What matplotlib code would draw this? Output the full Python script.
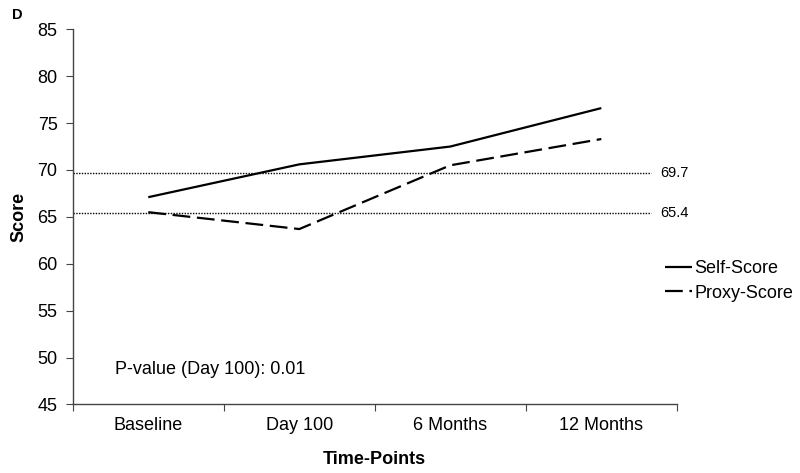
import matplotlib
matplotlib.use("Agg")
import matplotlib.pyplot as plt

categories = ["Baseline", "Day 100", "6 Months", "12 Months"]
self_score = [67.1, 70.6, 72.5, 76.6]
proxy_score = [65.5, 63.7, 70.5, 73.3]
ref_values = [69.7, 65.4]
ref_labels = ["69.7", "65.4"]
yticks = [45, 50, 55, 60, 65, 70, 75, 80, 85]

plt.rcParams['font.family'] = ['Liberation Sans', 'DejaVu Sans']

fig = plt.figure(figsize=(8, 4.73), dpi=100)
ax = fig.add_axes([0.091, 0.145, 0.755, 0.793])

x = list(range(len(categories)))
ax.plot(x, self_score, color='black', lw=1.6, label='Self-Score', solid_capstyle='butt')
ax.plot(x, proxy_score, color='black', lw=1.6, dashes=(8, 3), label='Proxy-Score', dash_capstyle='butt')

for v, lab in zip(ref_values, ref_labels):
    ax.plot([-0.5, 3.33], [v, v], color='black', lw=1.0, linestyle=(0, (1, 1)))
    ax.text(3.39, v, lab, fontsize=10.5, va='center', ha='left')

ax.set_xlim(-0.5, 3.5)
ax.set_ylim(45, 85)
ax.set_yticks(yticks)
ax.set_xticks([-0.5, 0.5, 1.5, 2.5, 3.5])
ax.set_xticklabels([])
ax.set_xticks(x, minor=True)
ax.set_xticklabels(categories, minor=True, fontsize=13)
ax.tick_params(axis='x', which='minor', length=0, pad=9)
ax.tick_params(axis='x', which='major', length=5, direction='out', color='#444444')
ax.tick_params(axis='y', length=5, direction='out', labelsize=13, color='#444444', pad=6)
for s in ['top', 'right']:
    ax.spines[s].set_visible(False)
for s in ['left', 'bottom']:
    ax.spines[s].set_color('#444444')
    ax.spines[s].set_linewidth(1.0)

ax.set_ylabel('Score', fontsize=13, fontweight='bold', labelpad=7)
ax.set_xlabel('Time-Points', fontsize=13, fontweight='bold', labelpad=12)

ax.text(-0.22, 48.7, 'P-value (Day 100): 0.01', fontsize=13, va='center', ha='left')

fig.legend(handles=ax.get_lines()[:2], labels=['Self-Score', 'Proxy-Score'],
           loc='center left', bbox_to_anchor=(0.831, 0.406), frameon=False, fontsize=13,
           handlelength=1.5, handletextpad=0.15, labelspacing=0.42,
           borderpad=0, borderaxespad=0)

fig.text(0.015, 0.983, 'D', fontsize=10.5, fontweight='bold', va='top', ha='left')

fig.savefig('out.png', dpi=100)
